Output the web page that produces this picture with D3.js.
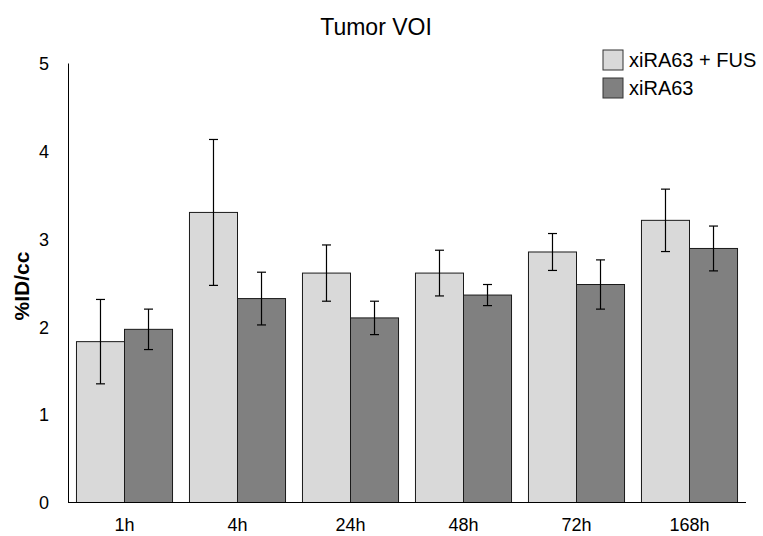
<!DOCTYPE html>
<html>
<head>
<meta charset="utf-8">
<script src="https://cdn.jsdelivr.net/npm/d3@7"></script>
<style>
  body { margin: 0; background: #fff; }
  text { font-family: "Liberation Sans", Arial, sans-serif; fill: #000; }
</style>
</head>
<body>
<svg id="chart" width="763" height="536"></svg>
<script>
// data
const timepoints = ["1h", "4h", "24h", "48h", "72h", "168h"];
const seriesNames = ["xiRA63 + FUS", "xiRA63"];
const fusMean = [1.83, 3.30, 2.61, 2.61, 2.85, 3.21];
const fusErr  = [0.48, 0.83, 0.32, 0.26, 0.21, 0.355];
const ctrlMean = [1.97, 2.32, 2.10, 2.36, 2.48, 2.89];
const ctrlErr  = [0.23, 0.30, 0.19, 0.12, 0.28, 0.255];
const yTicks = [0, 1, 2, 3, 4, 5];

const colors = ["#d9d9d9", "#808080"];

const svg = d3.select("#chart");
const plotLeft = 68, plotRight = 746, plotTop = 63, plotBottom = 502.5;

const x = d3.scaleBand().domain(timepoints).range([plotLeft, plotRight])
  .paddingInner(0.15).paddingOuter(0.075);
const xs = d3.scaleBand().domain(seriesNames).range([0, x.bandwidth()]);
const y = d3.scaleLinear().domain([0, 5]).range([plotBottom, plotTop]);

// build rows for drawing
const rows = [];
timepoints.forEach((t, i) => {
  rows.push({ t, s: seriesNames[0], v: fusMean[i], e: fusErr[i], c: colors[0] });
  rows.push({ t, s: seriesNames[1], v: ctrlMean[i], e: ctrlErr[i], c: colors[1] });
});

// bars
svg.append("g").selectAll("rect")
  .data(rows)
  .join("rect")
  .attr("x", d => x(d.t) + xs(d.s))
  .attr("y", d => y(d.v))
  .attr("width", xs.bandwidth())
  .attr("height", d => y(0) - y(d.v))
  .attr("fill", d => d.c)
  .attr("stroke", "#1a1a1a")
  .attr("stroke-width", 1);

// error bars
const eb = svg.append("g").attr("stroke", "#000").attr("stroke-width", 1.2);
rows.forEach(d => {
  const cx = x(d.t) + xs(d.s) + xs.bandwidth() / 2;
  eb.append("line").attr("x1", cx).attr("x2", cx)
    .attr("y1", y(d.v + d.e)).attr("y2", y(d.v - d.e));
  [d.v + d.e, d.v - d.e].forEach(v => {
    eb.append("line").attr("x1", cx - 4.5).attr("x2", cx + 4.5)
      .attr("y1", y(v)).attr("y2", y(v));
  });
});

// y axis
const yAxis = svg.append("g")
  .attr("transform", `translate(${plotLeft},0)`)
  .call(d3.axisLeft(y).tickValues(yTicks).tickSize(0).tickPadding(19).tickFormat(d3.format("d")));
yAxis.select(".domain").attr("stroke", "#000").attr("stroke-width", 1);
yAxis.selectAll("text").attr("font-size", 18).attr("dy", "0.35em")
  .style("font-family", "Liberation Sans, Arial, sans-serif").attr("fill", "#000");

// x axis
const xAxis = svg.append("g")
  .attr("transform", `translate(0,${plotBottom})`)
  .call(d3.axisBottom(x).tickSize(0).tickPadding(16));
xAxis.select(".domain").attr("stroke", "#000").attr("stroke-width", 1.2)
  .attr("d", `M${plotLeft},0H${plotRight}`);
xAxis.selectAll("text").attr("font-size", 18)
  .style("font-family", "Liberation Sans, Arial, sans-serif").attr("fill", "#000");

// title
svg.append("text")
  .attr("x", 376).attr("y", 35)
  .attr("text-anchor", "middle")
  .attr("font-size", 23)
  .text("Tumor VOI");

// y axis title
svg.append("text")
  .attr("transform", "translate(29,286) rotate(-90)")
  .attr("text-anchor", "middle")
  .attr("font-size", 21)
  .attr("font-weight", "bold")
  .text("%ID/cc");

// legend
const legend = svg.append("g").attr("transform", "translate(603,50)");
seriesNames.forEach((name, i) => {
  const g = legend.append("g").attr("transform", `translate(0,${i * 28})`);
  g.append("rect").attr("width", 20).attr("height", 20)
    .attr("fill", colors[i]).attr("stroke", "#333").attr("stroke-width", 1);
  g.append("text").attr("x", 26).attr("y", 17)
    .attr("font-size", 20).text(name);
});
</script>
</body>
</html>
